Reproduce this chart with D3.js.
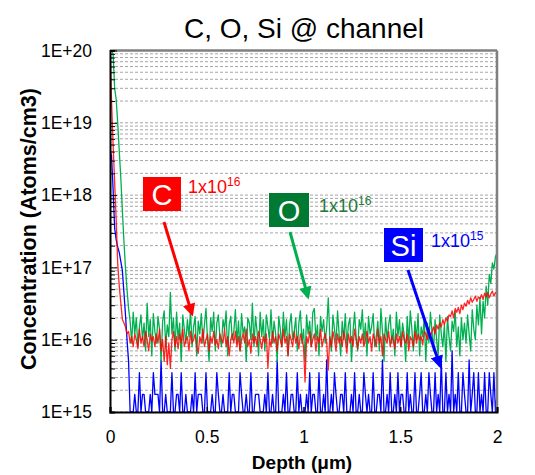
<!DOCTYPE html>
<html>
<head>
<meta charset="utf-8">
<script src="https://cdn.jsdelivr.net/npm/d3@7"></script>
<style>
  body { margin: 0; background: #fff; }
  svg { font-family: "Liberation Sans", Arial, sans-serif; }
</style>
</head>
<body>
<div id="chart"></div>
<script>
// ===========Data (SIMS profile, depth step 0.008 um, concentrations in units of 1E+15 atoms/cm3)
var depthStep = 0.008;

var carbon = [
  100000, 20000, 5000, 1500, 450, 110, 55, 32, 19, 17, 15, 12,
  13, 9, 11, 8, 12, 10, 7.5, 14,
  9, 11, 8, 13, 10, 7, 12, 9.5, 11, 8,
  12, 9, 14, 7, 10, 5, 11, 4.5, 9, 4,
  10, 13, 8, 11, 7.5, 12, 9, 14, 8, 10,
  11, 7, 13, 9, 10, 12, 8, 6.5, 11, 9,
  14, 8, 10, 12, 7, 11, 9, 13, 8.5, 10,
  7.5, 12, 10, 9, 14, 8, 11, 6, 10, 12,
  9, 13, 8, 11, 7, 10, 12, 9, 14, 8,
  10, 6.5, 12, 9, 11, 8, 13, 10, 7.5, 11,
  9, 12, 4, 10, 8, 13, 9, 11, 7, 12,
  10, 8, 14, 9, 11, 6, 12, 10, 8, 13,
  9, 11, 7.5, 12, 10, 8, 2.6, 11, 9, 13,
  8, 10, 12, 7, 11, 9, 14, 8, 10, 12,
  9, 3.8, 11, 8, 13, 10, 7, 12, 9, 11,
  8, 13, 10, 6.5, 12, 9, 11, 8, 14, 10,
  7.5, 11, 9, 12, 8, 10, 13, 9, 11, 7,
  12, 10, 8, 14, 9, 11, 6, 12, 10, 9,
  13, 8, 11, 10, 7.5, 12, 9, 11, 8, 13,
  10, 9, 12, 7, 11, 10, 8, 13, 9, 12,
  10, 11, 8.5, 13, 12, 10, 14, 11, 13, 15,
  12, 16, 14, 17, 15, 19, 16, 20, 18, 22,
  21, 25, 20, 27, 24, 28, 23, 30, 26, 32,
  29, 35, 31, 38, 33, 36, 40, 34, 39, 37,
  42, 36, 44, 39, 45, 38, 43, 47, 40, 45, 42
];

var oxygen = [
  100000, 100000, 90000, 30000, 21000, 9800, 4000, 1700, 600, 230, 98, 49, 27,
  18, 9, 24, 12, 20, 8, 15,
  22, 10, 17, 7, 32, 11, 19, 6, 23, 13,
  9, 21, 14, 5, 18, 25, 8, 16, 11, 45,
  12, 20, 7, 24, 10, 17, 5, 22, 14, 9,
  19, 11, 26, 8, 15, 21, 6, 18, 12, 23,
  9, 16, 27, 10, 5, 20, 13, 24, 7, 17,
  22, 11, 8, 19, 14, 25, 6, 16, 21, 10,
  13, 26, 9, 18, 7, 23, 12, 15, 5, 20,
  17, 10, 32, 8, 21, 13, 6, 24, 11, 19,
  7, 22, 15, 10, 26, 9, 18, 12, 5, 21,
  14, 8, 24, 11, 19, 6, 16, 23, 10, 13,
  20, 7, 17, 25, 9, 14, 5, 22, 12, 18,
  8, 24, 27, 10, 16, 6, 21, 13, 19, 9,
  15, 38, 11, 7, 22, 14, 9, 25, 12, 6,
  18, 10, 23, 8, 16, 20, 5, 13, 24, 11,
  7, 19, 14, 26, 9, 17, 6, 21, 12, 15,
  23, 8, 11, 18, 7, 27, 13, 5, 20, 10,
  16, 22, 9, 14, 6, 24, 11, 19, 8, 17,
  12, 5, 21, 9, 25, 14, 7, 18, 10, 23,
  6, 15, 11, 20, 5, 17, 9, 24, 13, 7,
  19, 10, 6, 22, 12, 8, 16, 5, 21, 11,
  7, 18, 13, 25, 8, 15, 6, 20, 10, 17,
  9, 22, 12, 7, 26, 14, 10, 30, 16, 38,
  12, 34, 20, 55, 30, 80, 60, 115, 95, 140, 160
];

var silicon = [
  4000, 3500, 1200, 350, 240, 190, 160, 120, 90, 45, 22, 10, 5, 0,
  0, 0, 1.75, 0, 0, 3.5,
  0, 1.75, 1.75, 0, 0, 0, 1.75, 0, 3.5, 1.75,
  1.75, 1.75, 0, 5.25, 0, 0, 1.75, 0, 0, 0,
  3.5, 0, 0, 1.75, 1.75, 0, 3.5, 0, 0, 1.75,
  0, 0, 0, 1.75, 0, 3.5, 0, 1.75, 1.75, 1.75,
  0, 0, 3.5, 0, 0, 0, 1.75, 0, 0, 3.5,
  1.75, 0, 0, 1.75, 0, 0, 0, 3.5, 0, 1.75,
  1.75, 0, 0, 0, 3.5, 1.75, 0, 0, 1.75, 0,
  0, 3.5, 0, 0, 1.75, 1.75, 1.75, 0, 0, 0,
  1.75, 0, 3.5, 0, 0, 1.75, 0, 0, 5.25, 0,
  0, 0, 1.75, 0, 3.5, 0, 0, 1.75, 1.75, 0,
  0, 3.5, 0, 1.75, 0, 0, 0, 1.75, 0, 3.5,
  0, 1.75, 1.75, 0, 0, 3.5, 0, 0, 1.75, 0,
  5.25, 0, 0, 1.75, 0, 3.5, 1.75, 0, 0, 1.75,
  1.75, 0, 3.5, 0, 0, 0, 1.75, 0, 3.5, 0,
  0, 1.75, 0, 0, 3.5, 1.75, 0, 1.75, 0, 0,
  3.5, 0, 0, 1.75, 1.75, 0, 5.25, 0, 0, 1.75,
  0, 3.5, 0, 0, 1.75, 0, 3.5, 0, 1.75, 1.75,
  0, 0, 3.5, 0, 1.75, 0, 0, 3.5, 0, 0,
  1.75, 3.5, 0, 0, 1.75, 0, 3.5, 1.75, 0, 0,
  3.5, 0, 1.75, 0, 5.25, 0, 0, 3.5, 0, 1.75,
  0, 7, 0, 1.75, 0, 3.5, 0, 0, 3.5, 1.75,
  0, 0, 5.25, 0, 1.75, 3.5, 0, 0, 3.5, 0,
  1.75, 0, 3.5, 0, 0, 3.5, 1.75, 0, 3.5, 0, 1.75
];

var xTicks = [0, 0.5, 1, 1.5, 2];
var yDecades = [1e15, 1e16, 1e17, 1e18, 1e19, 1e20];

// ===========Set Height, Width and Margins
var svgWidth = 535;
var svgHeight = 475;
var margin = { top: 50.5, right: 38, bottom: 63, left: 110 };
var width = svgWidth - margin.left - margin.right;
var height = svgHeight - margin.top - margin.bottom;

var svg = d3.select("#chart").append("svg")
    .attr("width", svgWidth)
    .attr("height", svgHeight);

var chartGroup = svg.append("g")
    .attr("transform", `translate(${margin.left}, ${margin.top})`);

// ==========Scales
var xScale = d3.scaleLinear().domain([0, 2]).range([0, width]);
var yScale = d3.scaleLog().domain([1e15, 1e20]).range([height, 0]).clamp(true);

// all minor values 1..9 x 10^n
var yMinor = [];
yDecades.forEach(function(d) {
    if (d === 1e20) { yMinor.push(d); return; }
    for (var m = 1; m <= 9; m++) yMinor.push(m * d);
});

// ==========Gridlines
chartGroup.append("g")
    .selectAll("line")
    .data(yMinor)
    .enter()
    .append("line")
    .attr("x1", 0)
    .attr("x2", width)
    .attr("y1", d => yScale(d))
    .attr("y2", d => yScale(d))
    .attr("stroke", "#a6a6a6")
    .attr("stroke-width", 1)
    .attr("stroke-dasharray", "3,2");

// ==========Series lines
chartGroup.append("clipPath")
    .attr("id", "plotClip")
    .append("rect")
    .attr("x", 0).attr("y", 0)
    .attr("width", width).attr("height", height);

var line = d3.line()
    .x((d, i) => xScale(i * depthStep))
    .y(d => yScale(Math.max(d * 1e15, 1e15)));

// drawing order: Si, O, then C on top
var series = [
    { values: silicon, color: "#0000ff", opacity: 1 },
    { values: oxygen, color: "#00b050", opacity: 1 },
    { values: carbon, color: "#ff0000", opacity: 0.85 }
];

chartGroup.append("g")
    .attr("clip-path", "url(#plotClip)")
    .selectAll("path")
    .data(series)
    .enter()
    .append("path")
    .attr("d", d => line(d.values))
    .attr("fill", "none")
    .attr("stroke", d => d.color)
    .attr("stroke-opacity", d => d.opacity)
    .attr("stroke-width", 1.3)
    .attr("stroke-linejoin", "round");

// ==========Frame: top/right gray, left/bottom black
chartGroup.append("line")
    .attr("x1", 0).attr("x2", width).attr("y1", 0).attr("y2", 0)
    .attr("stroke", "#808080").attr("stroke-width", 2.5);
chartGroup.append("line")
    .attr("x1", width).attr("x2", width).attr("y1", 0).attr("y2", height)
    .attr("stroke", "#808080").attr("stroke-width", 2.5);

// ==========Axes
var leftAxis = d3.axisLeft(yScale)
    .tickValues(yMinor)
    .tickSize(-5)
    .tickPadding(18)
    .tickFormat(d => yDecades.indexOf(d) >= 0 ? "1E+" + Math.round(Math.log10(d)) : "");

var yAxis = chartGroup.append("g").call(leftAxis);
yAxis.select(".domain").attr("stroke", "#000").attr("stroke-width", 2);
yAxis.selectAll(".tick line").attr("stroke", "#000").attr("stroke-width", 1)
    .attr("x2", d => yDecades.indexOf(d) >= 0 ? 7 : 5);
yAxis.selectAll(".tick text").attr("font-size", 17.5).attr("fill", "#000")
    .style("font-family", "Liberation Sans, Arial, sans-serif");

var bottomAxis = d3.axisBottom(xScale)
    .tickValues(xTicks)
    .tickSize(-5)
    .tickPadding(19)
    .tickFormat(d3.format("~g"));

var xAxis = chartGroup.append("g")
    .attr("transform", `translate(0, ${height})`)
    .call(bottomAxis);
xAxis.select(".domain").attr("stroke", "#000").attr("stroke-width", 2);
xAxis.selectAll(".tick line").attr("stroke", "#000").attr("stroke-width", 1.5);
xAxis.selectAll(".tick text").attr("font-size", 17.5).attr("fill", "#000")
    .style("font-family", "Liberation Sans, Arial, sans-serif");

// ==========Titles
svg.append("text")
    .attr("x", 304)
    .attr("y", 38)
    .attr("text-anchor", "middle")
    .attr("font-size", 28)
    .text("C, O, Si @ channel");

svg.append("text")
    .attr("x", 302)
    .attr("y", 469)
    .attr("text-anchor", "middle")
    .attr("font-size", 19)
    .attr("font-weight", "bold")
    .text("Depth (μm)");

svg.append("text")
    .attr("transform", "translate(36, 229) rotate(-90)")
    .attr("text-anchor", "middle")
    .attr("font-size", 21.5)
    .attr("font-weight", "bold")
    .text("Concentration (Atoms/cm3)");

// ==========Annotations (label box, level text, arrow)
var defs = svg.append("defs");
var notes = [
    { label: "C", exp: "16", box: [143, 177, 38, 34], fill: "#ff0000", text: "#ff0000",
      tx: 188, ty: 193, arrow: [164, 222, 192, 314], arrowColor: "#ff0000" },
    { label: "O", exp: "16", box: [269, 193, 40, 34], fill: "#007a33", text: "#1e7b3c",
      tx: 319, ty: 212, arrow: [290, 232, 308, 297], arrowColor: "#00b050" },
    { label: "Si", exp: "15", box: [384, 228, 39, 34], fill: "#0000ff", text: "#0000ff",
      tx: 431, ty: 247, arrow: [408, 270, 440, 366], arrowColor: "#0000ff" }
];

notes.forEach(function(n, k) {
    defs.append("marker")
        .attr("id", "head" + k)
        .attr("viewBox", "0 0 10 10")
        .attr("refX", 8).attr("refY", 5)
        .attr("markerWidth", 4.4).attr("markerHeight", 4.2)
        .attr("markerUnits", "strokeWidth")
        .attr("orient", "auto")
        .append("path")
        .attr("d", "M0,0 L10,5 L0,10 z")
        .attr("fill", n.arrowColor);

    svg.append("line")
        .attr("x1", n.arrow[0]).attr("y1", n.arrow[1])
        .attr("x2", n.arrow[2]).attr("y2", n.arrow[3])
        .attr("stroke", n.arrowColor)
        .attr("stroke-width", 3)
        .attr("marker-end", "url(#head" + k + ")");

    svg.append("rect")
        .attr("x", n.box[0]).attr("y", n.box[1])
        .attr("width", n.box[2]).attr("height", n.box[3])
        .attr("fill", n.fill);

    svg.append("text")
        .attr("x", n.box[0] + n.box[2] / 2)
        .attr("y", n.box[1] + n.box[3] / 2 + 10.5)
        .attr("text-anchor", "middle")
        .attr("font-size", 29)
        .attr("fill", "#fff")
        .text(n.label);

    var t = svg.append("text")
        .attr("x", n.tx).attr("y", n.ty)
        .attr("font-size", 18)
        .attr("fill", n.text);
    t.append("tspan").text("1x10");
    t.append("tspan").attr("font-size", 12).attr("dy", -7).text(n.exp);
});
</script>
</body>
</html>
